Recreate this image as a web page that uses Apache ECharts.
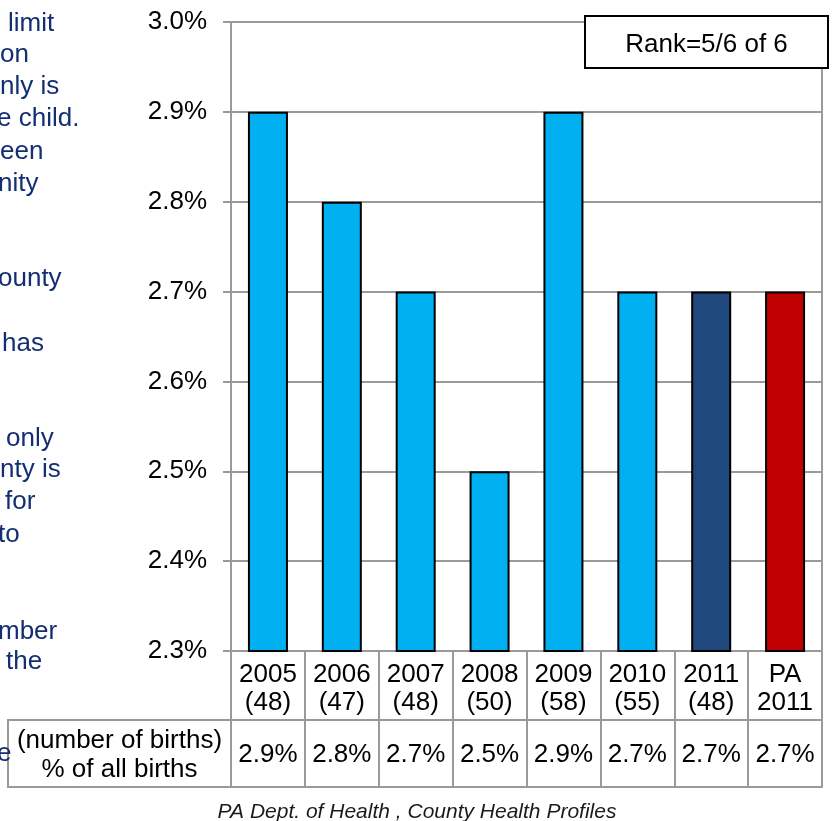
<!DOCTYPE html>
<html>
<head>
<meta charset="utf-8">
<script src="https://cdn.jsdelivr.net/npm/echarts@6/dist/echarts.min.js"></script>
<style>
html,body{margin:0;padding:0;background:#fff;}
#chart{width:835px;height:821px;}
</style>
</head>
<body>
<div id="chart"></div>
<script>
// ---- data ----
const categories = ['2005', '2006', '2007', '2008', '2009', '2010', '2011', 'PA'];
const subLabels = ['(48)', '(47)', '(48)', '(50)', '(58)', '(55)', '(48)', '2011'];
const values = [2.9, 2.8, 2.7, 2.5, 2.9, 2.7, 2.7, 2.7];
const yTicks = { min: 2.3, max: 3.0, step: 0.1 };
const rankText = 'Rank=5/6 of 6';
const headerLines = ['(number of births)', '% of all births'];
const sourceText = 'PA Dept. of Health , County Health Profiles';
const sideFragments = [
  ['limit', 8, 22], ['on', 0, 53], ['nly is', 0, 85], ['e child.', -3, 117],
  ['een', 0, 150], ['nity', -2, 182], ['ounty', -2, 277], ['has', 2, 342],
  ['only', 6, 437], ['nty is', 0, 468], ['for', 5, 500], ['to', -2, 533],
  ['mber', -2, 630], ['the', 6, 660], ['e', -3, 752]
];

// ---- layout / style ----
const FONT = '"Liberation Sans", Arial, sans-serif';
const GRID = { left: 231, right: 13, top: 22, bottom: 170 };
const W = 835, H = 821;
const axisY = H - GRID.bottom;       // 651
const row1 = 69, row2 = 136;          // table row offsets below the axis
const lineCol = '#9a9a9a';
const colLight = '#00B0F0', colDark = '#1F497D', colRed = '#C00000';

const chart = echarts.init(document.getElementById('chart'), null, { renderer: 'canvas' });

const graphics = [];
sideFragments.forEach(([t, x, y]) => {
  graphics.push({ type: 'text', left: x, top: y - 11, z: 10,
    style: { text: t, font: '26px ' + FONT, fill: '#132E72' } });
});
// header cell of the value row
graphics.push({ type: 'rect', z: 5,
  shape: { x: 8, y: axisY + row1, width: GRID.left - 8, height: row2 - row1 },
  style: { fill: 'none', stroke: lineCol, lineWidth: 2 } });
graphics.push({ type: 'text', z: 6, x: (8 + GRID.left) / 2, y: axisY + (row1 + row2) / 2 + 2,
  style: { text: headerLines.join('\n'), font: '26px ' + FONT, fill: '#000',
    align: 'center', verticalAlign: 'middle', lineHeight: 29 } });
// rank box
graphics.push({ type: 'rect', z: 20,
  shape: { x: 585, y: 16, width: 243, height: 52 },
  style: { fill: '#fff', stroke: '#000', lineWidth: 2 } });
graphics.push({ type: 'text', z: 21, x: 706.5, y: 45,
  style: { text: rankText, font: '26px ' + FONT, fill: '#000', align: 'center', verticalAlign: 'middle' } });
// source
graphics.push({ type: 'text', z: 6, x: 417, y: 812,
  style: { text: sourceText, font: 'italic 21px ' + FONT, fill: '#1a1a1a', align: 'center', verticalAlign: 'middle' } });

const option = {
  animation: false,
  backgroundColor: '#fff',
  grid: { left: GRID.left, right: GRID.right, top: GRID.top, bottom: GRID.bottom,
    show: true, borderColor: lineCol, borderWidth: 2, containLabel: false },
  xAxis: [
    {
      type: 'category', data: categories, position: 'bottom',
      axisLine: { show: true, lineStyle: { color: lineCol, width: 2 } },
      axisTick: { show: true, interval: 0, length: row2, lineStyle: { color: lineCol, width: 2 } },
      axisLabel: { interval: 0, margin: 10, color: '#000', fontFamily: FONT, fontSize: 26, lineHeight: 28,
        formatter: (v, i) => v + '\n' + subLabels[i] }
    },
    {
      type: 'category', data: values.map(v => v.toFixed(1) + '%'), position: 'bottom', offset: row1,
      axisLine: { show: true, lineStyle: { color: lineCol, width: 2 } },
      axisTick: { show: false },
      axisLabel: { interval: 0, margin: 20, color: '#000', fontFamily: FONT, fontSize: 26, lineHeight: 29 }
    },
    {
      type: 'category', data: categories, position: 'bottom', offset: row2,
      axisLine: { show: true, lineStyle: { color: lineCol, width: 2 } },
      axisTick: { show: false }, axisLabel: { show: false }
    }
  ],
  yAxis: {
    type: 'value', min: yTicks.min, max: yTicks.max, interval: yTicks.step,
    axisLine: { show: true, lineStyle: { color: lineCol, width: 2 } },
    axisTick: { show: true, length: 8, lineStyle: { color: lineCol, width: 2 } },
    splitLine: { show: true, lineStyle: { color: lineCol, width: 2 } },
    axisLabel: { margin: 24, color: '#000', fontFamily: FONT, fontSize: 26,
      formatter: v => v.toFixed(1) + '%' }
  },
  series: [{
    type: 'bar', xAxisIndex: 0, barWidth: 40,
    data: values.map((v, i) => ({
      value: v,
      itemStyle: { color: i === values.length - 1 ? colRed : (i === values.length - 2 ? colDark : colLight) }
    })),
    itemStyle: { borderColor: '#000', borderWidth: 2 }
  }],
  graphic: graphics
};
chart.setOption(option);
</script>
</body>
</html>
